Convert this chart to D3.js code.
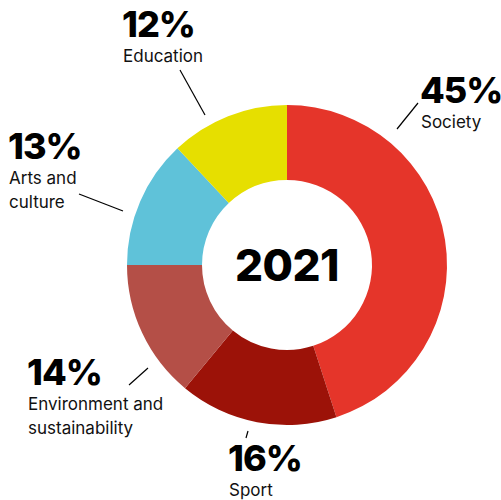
<!DOCTYPE html>
<html>
<head>
<meta charset="utf-8">
<script src="https://cdn.jsdelivr.net/npm/d3@7"></script>
<style>
  html, body { margin: 0; padding: 0; background: #fff; }
  svg { display: block; }
</style>
</head>
<body>
<script>
// Share of funding by area, 2021
const categories = ["Society", "Sport", "Environment and sustainability", "Arts and culture", "Education"];
const values = [45, 16, 14, 13, 12];
const labelLines = [["Society"], ["Sport"], ["Environment and", "sustainability"], ["Arts and", "culture"], ["Education"]];
const colors = ["#e5352a", "#9c1208", "#b44f47", "#5fc2d9", "#e6df00"];
const centerLabel = "2021";

// Label placement: text anchor and leader line endpoints per slice
const layout = [
  { x: 420, y: 103, line: [[397, 129], [418, 103]] },
  { x: 228, y: 471, line: [[246, 438], [248, 431]] },
  { x: 27,  y: 385, line: [[129, 385], [148, 368]] },
  { x: 8,   y: 159, line: [[79, 194], [123, 211]] },
  { x: 122, y: 37,  line: [[180, 70], [205, 115]] }
];

const W = 501, H = 500;
const cx = 287, cy = 265, rOuter = 160, rInner = 85;

const svg = d3.select("body").append("svg").attr("width", W).attr("height", H);

const pie = d3.pie().sort(null).value(d => d)(values);
const arc = d3.arc().innerRadius(rInner).outerRadius(rOuter);

const g = svg.append("g").attr("transform", `translate(${cx},${cy})`);
g.selectAll("path").data(pie).join("path")
  .attr("d", arc)
  .attr("fill", (d, i) => colors[i]);

g.append("text")
  .attr("text-anchor", "middle")
  .attr("dy", "0.36em")
  .attr("font-family", "Inter, sans-serif")
  .attr("font-weight", 800)
  .attr("font-size", 44)
  .attr("letter-spacing", -0.5)
  .attr("fill", "#000")
  .text(centerLabel);

const fmt = d3.format(".0f");

pie.forEach((d, i) => {
  const L = layout[i];
  svg.append("line")
    .attr("x1", L.line[0][0]).attr("y1", L.line[0][1])
    .attr("x2", L.line[1][0]).attr("y2", L.line[1][1])
    .attr("stroke", "#000").attr("stroke-width", 1.2);

  svg.append("text")
    .attr("x", L.x).attr("y", L.y)
    .attr("font-family", "Inter, sans-serif")
    .attr("font-weight", 800)
    .attr("font-size", 36)
    .attr("letter-spacing", -1)
    .attr("fill", "#000")
    .text(fmt(d.data) + "%");

  labelLines[i].forEach((t, j) => {
    svg.append("text")
      .attr("x", L.x + 1).attr("y", L.y + 25 + j * 24)
      .attr("font-family", "Inter, sans-serif")
      .attr("font-size", 17)
      .attr("fill", "#111")
      .text(t);
  });
});
</script>
</body>
</html>
